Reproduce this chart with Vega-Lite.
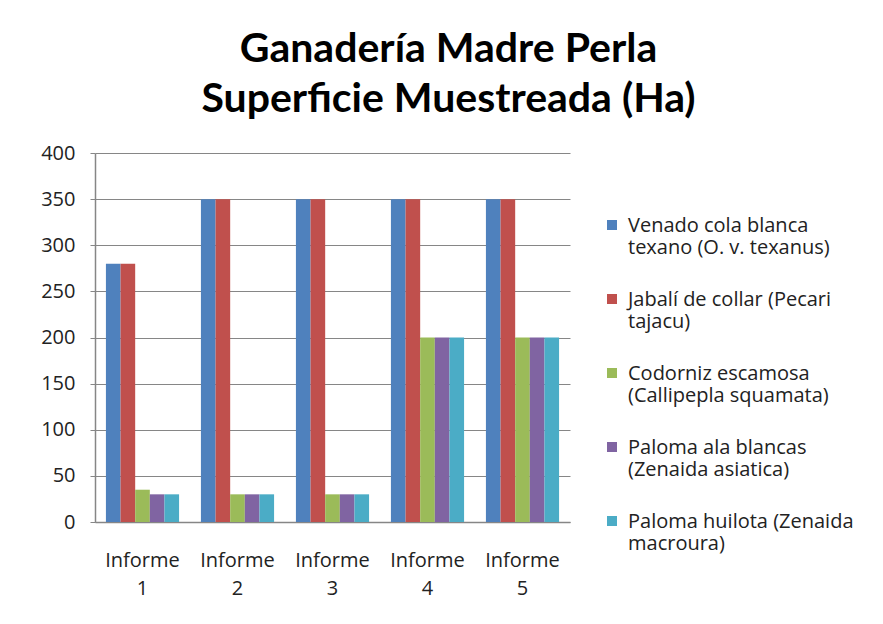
{
  "$schema": "https://vega.github.io/schema/vega-lite/v6.json",
  "autosize": "none",
  "width": 475,
  "height": 369,
  "padding": {"left": 95, "top": 153, "right": 313, "bottom": 102},
  "background": "white",
  "title": {
    "text": ["Ganadería Madre Perla", "Superficie Muestreada (Ha)"],
    "font": "Lato",
    "fontSize": 41,
    "fontWeight": "bold",
    "color": "#000000",
    "lineHeight": 50,
    "anchor": "middle",
    "frame": "group",
    "dx": 116,
    "offset": 22
  },
  "data": {
    "values": [
      {"informe": "Informe 1", "especie": "Venado cola blanca texano (O. v. texanus)", "ha": 280},
      {"informe": "Informe 1", "especie": "Jabalí de collar (Pecari tajacu)", "ha": 280},
      {"informe": "Informe 1", "especie": "Codorniz escamosa (Callipepla squamata)", "ha": 35},
      {"informe": "Informe 1", "especie": "Paloma ala blancas (Zenaida asiatica)", "ha": 30},
      {"informe": "Informe 1", "especie": "Paloma huilota (Zenaida macroura)", "ha": 30},
      {"informe": "Informe 2", "especie": "Venado cola blanca texano (O. v. texanus)", "ha": 350},
      {"informe": "Informe 2", "especie": "Jabalí de collar (Pecari tajacu)", "ha": 350},
      {"informe": "Informe 2", "especie": "Codorniz escamosa (Callipepla squamata)", "ha": 30},
      {"informe": "Informe 2", "especie": "Paloma ala blancas (Zenaida asiatica)", "ha": 30},
      {"informe": "Informe 2", "especie": "Paloma huilota (Zenaida macroura)", "ha": 30},
      {"informe": "Informe 3", "especie": "Venado cola blanca texano (O. v. texanus)", "ha": 350},
      {"informe": "Informe 3", "especie": "Jabalí de collar (Pecari tajacu)", "ha": 350},
      {"informe": "Informe 3", "especie": "Codorniz escamosa (Callipepla squamata)", "ha": 30},
      {"informe": "Informe 3", "especie": "Paloma ala blancas (Zenaida asiatica)", "ha": 30},
      {"informe": "Informe 3", "especie": "Paloma huilota (Zenaida macroura)", "ha": 30},
      {"informe": "Informe 4", "especie": "Venado cola blanca texano (O. v. texanus)", "ha": 350},
      {"informe": "Informe 4", "especie": "Jabalí de collar (Pecari tajacu)", "ha": 350},
      {"informe": "Informe 4", "especie": "Codorniz escamosa (Callipepla squamata)", "ha": 200},
      {"informe": "Informe 4", "especie": "Paloma ala blancas (Zenaida asiatica)", "ha": 200},
      {"informe": "Informe 4", "especie": "Paloma huilota (Zenaida macroura)", "ha": 200},
      {"informe": "Informe 5", "especie": "Venado cola blanca texano (O. v. texanus)", "ha": 350},
      {"informe": "Informe 5", "especie": "Jabalí de collar (Pecari tajacu)", "ha": 350},
      {"informe": "Informe 5", "especie": "Codorniz escamosa (Callipepla squamata)", "ha": 200},
      {"informe": "Informe 5", "especie": "Paloma ala blancas (Zenaida asiatica)", "ha": 200},
      {"informe": "Informe 5", "especie": "Paloma huilota (Zenaida macroura)", "ha": 200}
    ]
  },
  "mark": {"type": "bar"},
  "encoding": {
    "x": {
      "field": "informe",
      "type": "nominal",
      "scale": {"paddingInner": 0.23, "paddingOuter": 0.115},
      "axis": {
        "title": null,
        "labelAngle": 0,
        "labelExpr": "split(datum.label, ' ')",
        "labelFont": "Open Sans",
        "labelFontSize": 20,
        "labelColor": "#222222",
        "labelLineHeight": 28,
        "labelPadding": 28,
        "labelBaseline": "top",
        "ticks": false,
        "domainColor": "#868686",
        "domainWidth": 1.5
      }
    },
    "xOffset": {
      "field": "especie",
      "type": "nominal",
      "sort": [
        "Venado cola blanca texano (O. v. texanus)",
        "Jabalí de collar (Pecari tajacu)",
        "Codorniz escamosa (Callipepla squamata)",
        "Paloma ala blancas (Zenaida asiatica)",
        "Paloma huilota (Zenaida macroura)"
      ],
      "scale": {"paddingInner": 0, "paddingOuter": 0}
    },
    "y": {
      "field": "ha",
      "type": "quantitative",
      "scale": {"domain": [0, 400]},
      "axis": {
        "title": null,
        "values": [0, 50, 100, 150, 200, 250, 300, 350, 400],
        "labelFont": "Open Sans",
        "labelFontSize": 20,
        "labelColor": "#222222",
        "labelPadding": 15,
        "tickSize": 5,
        "tickColor": "#868686",
        "grid": true,
        "gridColor": "#868686",
        "gridWidth": 1,
        "domainColor": "#868686",
        "domainWidth": 1.5
      }
    },
    "color": {
      "field": "especie",
      "type": "nominal",
      "scale": {
        "domain": [
          "Venado cola blanca texano (O. v. texanus)",
          "Jabalí de collar (Pecari tajacu)",
          "Codorniz escamosa (Callipepla squamata)",
          "Paloma ala blancas (Zenaida asiatica)",
          "Paloma huilota (Zenaida macroura)"
        ],
        "range": ["#4F81BD", "#C0504D", "#9BBB59", "#8064A2", "#4BACC6"]
      },
      "legend": {
        "title": null,
        "orient": "none",
        "legendX": 507,
        "legendY": 62,
        "padding": 0,
        "symbolType": "square",
        "symbolSize": 100,
        "symbolStrokeWidth": 0,
        "labelFont": "Open Sans",
        "labelFontSize": 20,
        "labelColor": "#222222",
        "labelLineHeight": 27,
        "labelBaseline": "alphabetic",
        "labelOffset": 6,
        "labelLimit": 400,
        "rowPadding": 31,
        "encode": {"labels": {"update": {"dy": {"value": 7}}}},
        "labelExpr": "datum.label == 'Venado cola blanca texano (O. v. texanus)' ? ['Venado cola blanca', 'texano (O. v. texanus)'] : datum.label == 'Jabalí de collar (Pecari tajacu)' ? ['Jabalí de collar (Pecari', 'tajacu)'] : datum.label == 'Codorniz escamosa (Callipepla squamata)' ? ['Codorniz escamosa', '(Callipepla squamata)'] : datum.label == 'Paloma ala blancas (Zenaida asiatica)' ? ['Paloma ala blancas', '(Zenaida asiatica)'] : ['Paloma huilota (Zenaida', 'macroura)']"
      }
    }
  },
  "config": {
    "view": {"stroke": null}
  }
}
